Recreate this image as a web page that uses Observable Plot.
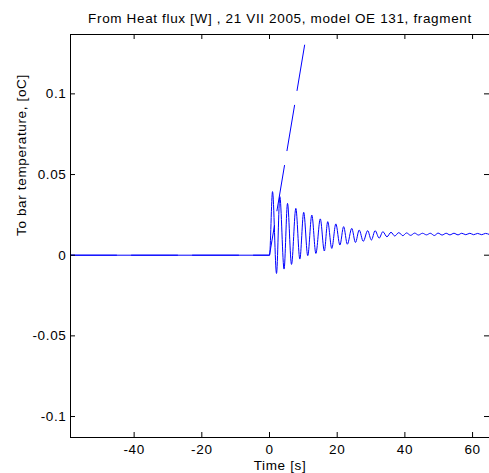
<!DOCTYPE html>
<html><head><meta charset="utf-8">
<script src="https://cdn.jsdelivr.net/npm/d3@7"></script>
<script src="https://cdn.jsdelivr.net/npm/@observablehq/plot@0.6"></script>
<style>body{margin:0;background:#fff} svg{display:block}</style>
</head><body><div id="chart"></div>
<script>
// Step response (solid): start, then read-off extrema of the decaying oscillation
const respTime = [-58.8, 0, 0.89, 2.07, 3.05, 4.3, 5.32, 6.5, 7.78, 8.96, 10.1, 11.3, 12.5, 13.7, 15.0, 16.2, 17.2, 18.4, 19.6, 20.8, 21.9, 23.0, 24.3, 25.4, 26.5, 27.7, 29.0, 30.1, 31.2, 32.4, 33.5, 34.7, 35.9, 37.0, 38.2, 39.4, 40.5, 41.7, 42.9, 44.0, 45.2, 46.4, 47.5, 48.7, 49.8, 51.0, 52.2, 53.3, 54.5, 55.7, 56.8, 58.0, 59.2, 60.3, 61.5, 62.7, 63.8, 65.0];
const respValue = [0, 0, 0.0394, -0.0113, 0.0363, -0.0086, 0.0321, -0.0057, 0.0290, -0.0024, 0.0266, -0.0003, 0.0249, 0.0011, 0.0225, 0.0026, 0.0208, 0.0042, 0.0194, 0.0063, 0.0177, 0.0068, 0.0166, 0.0079, 0.0156, 0.0086, 0.0152, 0.0094, 0.0152, 0.0106, 0.0146, 0.0114, 0.0142, 0.0119, 0.0140, 0.0121, 0.0138, 0.0123, 0.0137, 0.0125, 0.0136, 0.0126, 0.0136, 0.0122, 0.0137, 0.0125, 0.0136, 0.0126, 0.0136, 0.0126, 0.0136, 0.0127, 0.0136, 0.0127, 0.0135, 0.0127, 0.0135, 0.0128];
// Dashed ramp
const rampTime = [-58.8, 0, 10.5];
const rampValue = [0, 0, 0.1318];
const xTicks = [-40, -20, 0, 20, 40, 60];
const yTicks = [-0.1, -0.05, 0, 0.05, 0.1];
const titleText = "From Heat flux [W] , 21 VII 2005, model OE 131, fragment";
const xLabel = "Time [s]";
const yLabel = "To bar temperature, [oC]";

const W = 489, H = 473, mL = 70, mR = 0, mT = 34, mB = 36;
const fw = W - mL - mR, fh = H - mT - mB, tl = 5;
const fs = 13.5;
const resp = respTime.map((t, i) => ({t, v: respValue[i]}));
const ramp = rampTime.map((t, i) => ({t, v: rampValue[i]}));

const plot = Plot.plot({
  width: W, height: H,
  marginLeft: mL, marginRight: mR, marginTop: mT, marginBottom: mB,
  style: {fontFamily: "'Liberation Sans', Arial, sans-serif", letterSpacing: "0.65px", background: "#fff", color: "#000"},
  x: {domain: [-58.8, 65]},
  y: {domain: [-0.113, 0.1368]},
  marks: [
    Plot.line(ramp, {x: "t", y: "v", stroke: "#0000ff", strokeWidth: 1, strokeDasharray: "46,15"}),
    Plot.line(resp, {x: "t", y: "v", stroke: "#0000ff", strokeWidth: 1, curve: "monotone-x"}),
    Plot.frame({stroke: "#000"}),
    Plot.ruleX(xTicks, {x: d => d, insetTop: fh - tl, stroke: "#000"}),
    Plot.ruleX(xTicks, {x: d => d, insetBottom: fh - tl, stroke: "#000"}),
    Plot.ruleY(yTicks, {y: d => d, insetRight: fw - tl, stroke: "#000"}),
    Plot.ruleY(yTicks, {y: d => d, insetLeft: fw - tl, stroke: "#000"}),
    Plot.axisX(xTicks, {tickSize: 0, tickPadding: 7, tickFormat: d => String(d), label: null, fill: "#000", fontSize: fs}),
    Plot.axisY(yTicks, {tickSize: 0, tickPadding: 4, tickFormat: d => String(d), label: null, fill: "#000", fontSize: fs}),
    Plot.text([titleText], {text: d => d, frameAnchor: "top", dy: -16, lineAnchor: "middle", fill: "#000", fontSize: fs}),
    Plot.text([xLabel], {text: d => d, frameAnchor: "bottom", dy: 28, lineAnchor: "middle", fill: "#000", fontSize: fs}),
    Plot.text([yLabel], {text: d => d, frameAnchor: "left", dx: -49, rotate: -90, lineAnchor: "middle", fill: "#000", fontSize: fs})
  ]
});
document.getElementById("chart").appendChild(plot);
</script>
</body></html>
